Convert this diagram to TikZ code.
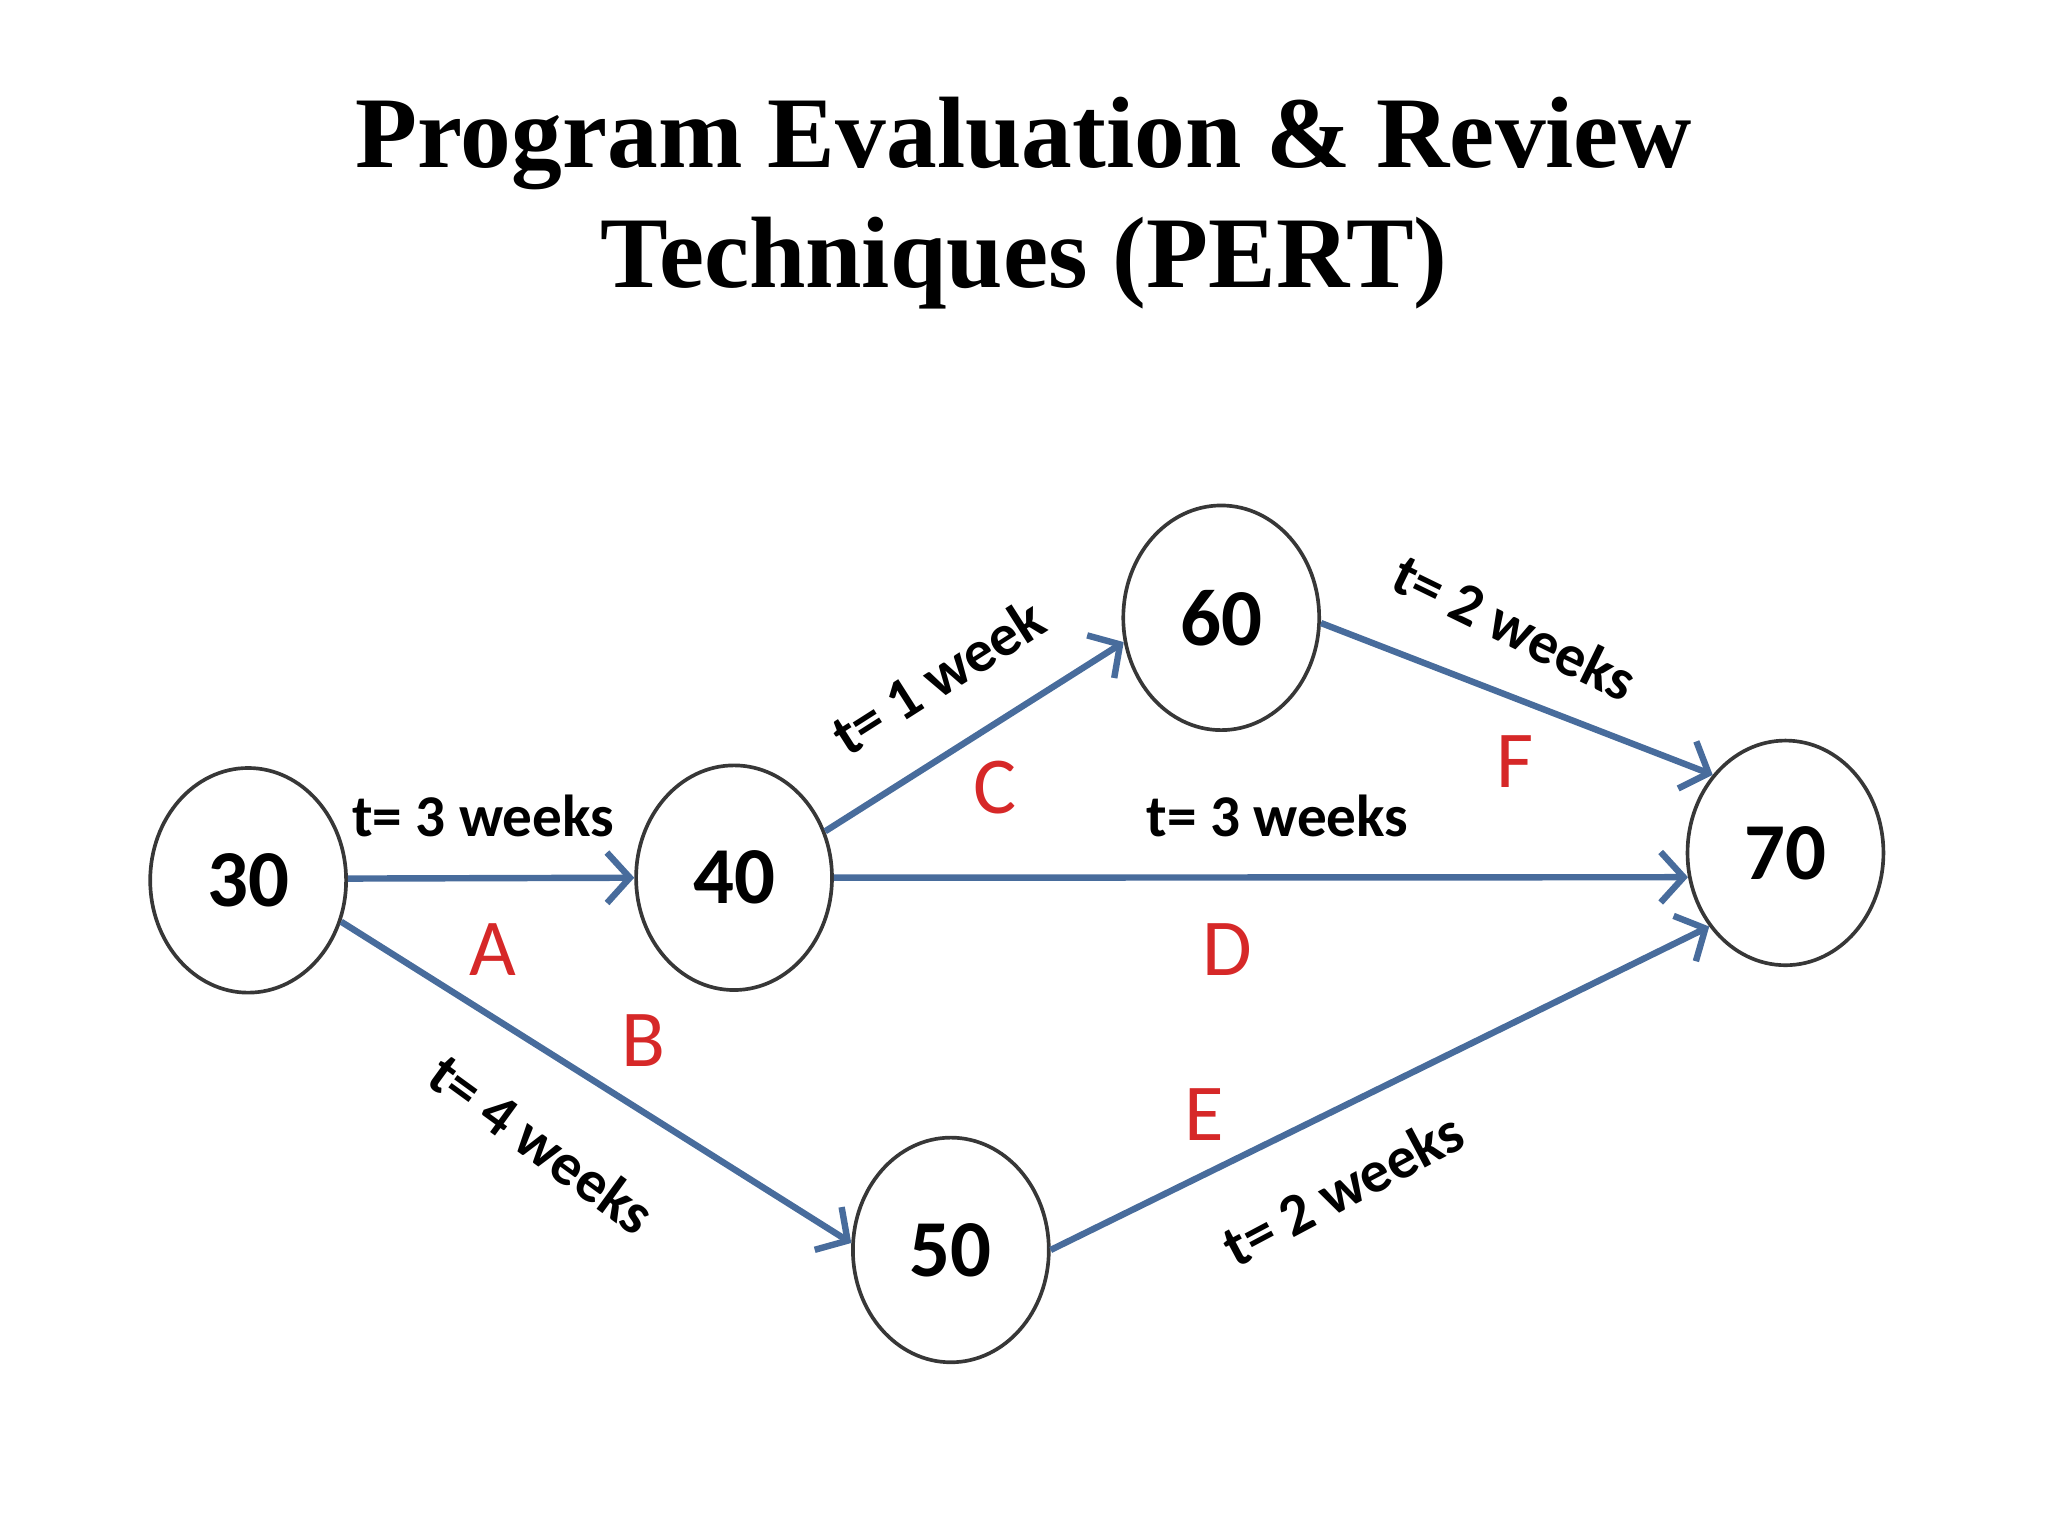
\documentclass[tikz,border=0pt]{standalone}
\usepackage{fontspec}
\setmainfont{Liberation Serif}
\newfontfamily\calib{Carlito}
\usepackage{xcolor}
\usepackage{tikz}
\usetikzlibrary{shapes.geometric,arrows.meta,positioning,calc}

\definecolor{arrowblue}{RGB}{72,108,156}
\definecolor{eventred}{RGB}{214,40,40}
\definecolor{ringgray}{RGB}{55,55,55}

\tikzset{
    event/.style={draw=ringgray, line width=0.8pt, ellipse, minimum width=1.5cm, minimum height=1.72cm, inner sep=0pt, font=\calib\bfseries\fontsize{17.6}{20}\selectfont},
    activity/.style={draw=arrowblue, line width=1.4pt, -{Straight Barb[length=5pt,width=11pt,line width=1.4pt]}},
    dur/.style={font=\calib\bfseries\fontsize{12.9}{15}\selectfont, inner sep=0pt},
    tag/.style={font=\calib\fontsize{17.6}{20}\selectfont, text=eventred, inner sep=0pt}
}

\begin{document}
\begin{tikzpicture}
    \useasboundingbox (0,0) rectangle (15.68,-11.76);

    % title
    \node[anchor=base, font=\bfseries\fontsize{22.1}{26}\selectfont] (title1) at (7.84,-1.28) {Program Evaluation \& Review};
    \node[anchor=base, font=\bfseries\fontsize{22.1}{26}\selectfont] (title2) at (7.84,-2.20) {Techniques (PERT)};

    % events
    \node[event] (n30) at (1.90,-6.74) {30};
    \node[event] (n40) at (5.62,-6.72) {40};
    \node[event] (n60) at (9.35,-4.73) {60};
    \node[event] (n70) at (13.67,-6.53) {70};
    \node[event] (n50) at (7.28,-9.57) {50};

    % activities
    \draw[activity] (n30.1) -- (n40.180);
    \draw[activity] (n30.-24) -- (n50.176);
    \draw[activity] (n40.27) -- (n60.194);
    \draw[activity] (n40.0) -- (n70.194);
    \draw[activity] (n50.0) -- (n70.224);
    \draw[activity] (n60.-3) -- (n70.133);

    % durations
    \node[dur] (tA) at (3.70,-6.25) {t= 3 weeks};
    \node[dur, rotate=-36] (tB) at (4.15,-8.76) {t= 4 weeks};
    \node[dur, rotate=32.5] (tC) at (7.18,-5.18) {t= 1 week};
    \node[dur] (tD) at (9.78,-6.25) {t= 3 weeks};
    \node[dur, rotate=28] (tE) at (10.28,-9.10) {t= 2 weeks};
    \node[dur, rotate=-26] (tF) at (11.60,-4.80) {t= 2 weeks};

    % activity letters
    \node[tag] (lA) at (3.77,-7.27) {A};
    \node[tag] (lB) at (4.93,-7.97) {B};
    \node[tag] (lC) at (7.62,-6.03) {C};
    \node[tag] (lD) at (9.40,-7.27) {D};
    \node[tag] (lE) at (9.22,-8.53) {E};
    \node[tag] (lF) at (11.60,-5.83) {F};
\end{tikzpicture}
\end{document}
